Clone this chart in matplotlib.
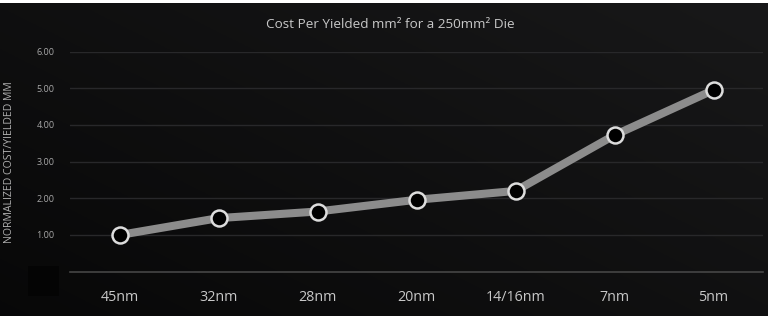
import numpy as np
import matplotlib
matplotlib.use("Agg")
import matplotlib.pyplot as plt
from matplotlib.patches import Rectangle

# Data
nodes = ["45nm", "32nm", "28nm", "20nm", "14/16nm", "7nm", "5nm"]
cost = [1.00, 1.46, 1.64, 1.96, 2.20, 3.72, 4.95]
yticks = [1, 2, 3, 4, 5, 6]
title = "Cost Per Yielded mm² for a 250mm² Die"
ylabel = "NORMALIZED COST/YIELDED MM"

W, H = 768, 326
fig = plt.figure(figsize=(W / 100, H / 100), dpi=100, facecolor="white")

# Background gradient panel (dark), white strips top/bottom
bg = fig.add_axes([0, 9.5 / H, 1, (316.5 - 3) / H])
bg.set_axis_off()
yy, xx = np.mgrid[0:1:200j, 0:1:400j]
g = 0.03 + 0.065 * (0.55 * xx + 0.45 * yy)
bg.imshow(np.dstack([g, g, g * 1.04]).clip(0, 1), aspect="auto", origin="lower",
          extent=[0, 1, 0, 1])
bg.set_xlim(0, 1)
bg.set_ylim(0, 1)
fig.patches.append(Rectangle((28 / W, (H - 296) / H), 31 / W, 30 / H,
                             transform=fig.transFigure, facecolor="#040404",
                             edgecolor="none", zorder=1))

# Main axes: x from 70 to 763 px, y=0 at 271.7 px, y=6 at 51.5 px
x0, x1 = 70, 763
ybot, ytop = 271.7, 51.5
ax = fig.add_axes([x0 / W, (H - ybot) / H, (x1 - x0) / W, (ybot - ytop) / H])
ax.patch.set_alpha(0)
ax.set_xlim(-0.5, len(nodes) - 0.5)
ax.set_ylim(0, 6)

for t in yticks:
    ax.axhline(t, color="#28282a", lw=1.0, zorder=1)
ax.axhline(0, color="#464646", lw=1.2, zorder=1, clip_on=False)

xs = np.arange(len(nodes))
ax.plot(xs, cost, color="#8c8c8c", lw=5.8, solid_capstyle="butt", zorder=3,
        clip_on=False)
ax.plot(xs, cost, ls="none", marker="o", ms=11.5, mfc="black", mec="#dcdcdc",
        mew=1.8, zorder=4, clip_on=False)

for s in ax.spines.values():
    s.set_visible(False)
ax.set_yticks(yticks)
ax.set_yticklabels([f"{v:.2f}" for v in yticks], fontsize=6.5, color="#a8a8a8",
                   family="Open Sans")
ax.set_xticks(xs)
ax.set_xticklabels(nodes, fontsize=10.3, color="#c8c8c8", family="Open Sans")
ax.tick_params(axis="y", length=0, pad=11)
ax.tick_params(axis="x", length=0, pad=13)

fig.text(390 / W, (H - 25) / H, title, ha="center", va="center", fontsize=9.7,
         color="#c8c8c8", family="Open Sans")
fig.text(10 / W, (H - 162) / H, ylabel, ha="center", va="center", rotation=90,
         fontsize=7.6, color="#b0b0b0", family="Open Sans")

fig.savefig("out.png", dpi=100, facecolor="white")
